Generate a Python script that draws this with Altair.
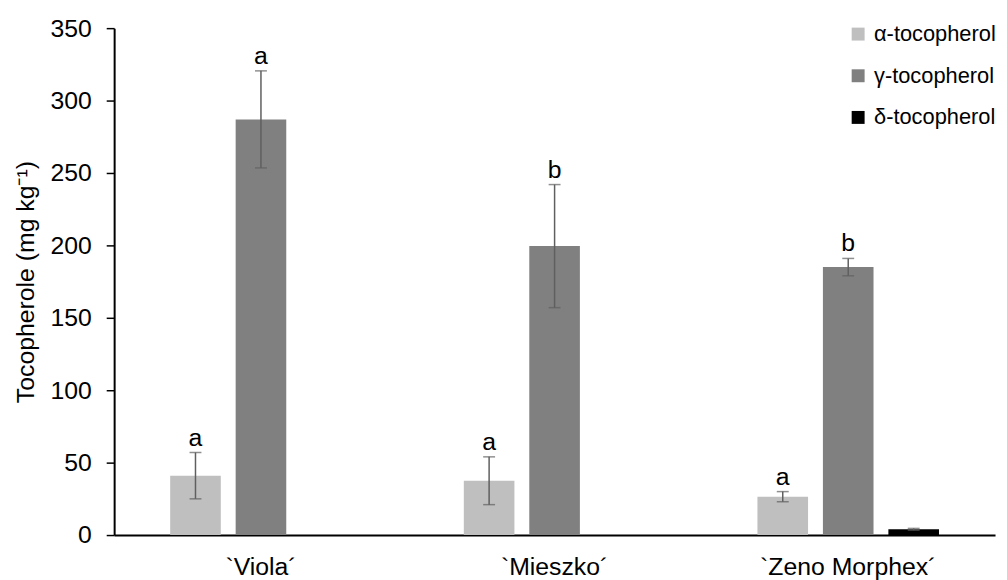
import altair as alt
import pandas as pd

cultivars = ["`Viola´", "`Mieszko´", "`Zeno Morphex´"]
compounds = ["α-tocopherol", "γ-tocopherol", "δ-tocopherol"]
colors = ["#BFBFBF", "#808080", "#000000"]

alpha_mean = [41.0, 37.5, 26.5]
alpha_err = [16.0, 16.5, 3.5]
gamma_mean = [287.0, 199.5, 185.0]
gamma_err = [33.5, 42.5, 6.0]
delta_mean = [0.0, 0.0, 4.0]
delta_err = [0.0, 0.0, 0.6]

alpha_letters = ["a", "a", "a"]
gamma_letters = ["a", "b", "b"]
delta_letters = ["", "", ""]

means = [alpha_mean, gamma_mean, delta_mean]
errs = [alpha_err, gamma_err, delta_err]
letters = [alpha_letters, gamma_letters, delta_letters]

rows = []
for ci, comp in enumerate(compounds):
    for vi, cv in enumerate(cultivars):
        m = means[ci][vi]
        e = errs[ci][vi]
        rows.append({
            "cultivar": cv, "compound": comp, "mean": m,
            "lo": m - e, "hi": m + e, "letter": letters[ci][vi],
            "has_err": e > 0,
        })
df = pd.DataFrame(rows)

FONT = "Liberation Sans"
ERR = "#5f5f5f"

x_enc = alt.X("cultivar:N", sort=cultivars,
              scale=alt.Scale(paddingInner=0, paddingOuter=0),
              axis=alt.Axis(title=None, labelAngle=0, ticks=False, labelPadding=20))
xo_enc = alt.XOffset("compound:N", sort=compounds,
                     scale=alt.Scale(paddingInner=0.227, paddingOuter=0.856))
y_scale = alt.Scale(domain=[0, 350], nice=False)

bars = alt.Chart(df).mark_bar().encode(
    x=x_enc,
    xOffset=xo_enc,
    y=alt.Y("mean:Q", scale=y_scale,
            axis=alt.Axis(title="Tocopherole (mg kg⁻¹)", values=list(range(0, 351, 50)),
                          grid=False, tickSize=8, tickWidth=1.5, labelPadding=15,
                          titlePadding=12)),
    color=alt.Color("compound:N", sort=compounds,
                    scale=alt.Scale(domain=compounds, range=colors),
                    legend=alt.Legend(title=None, orient="none", legendX=739, legendY=-5,
                                      symbolType="square", symbolSize=170,
                                      symbolStrokeWidth=0, symbolOpacity=1,
                                      labelOffset=5, rowPadding=20, padding=0)),
)

err_df = alt.Chart(df).transform_filter("datum.has_err")

rules = err_df.mark_rule(color=ERR, strokeWidth=1.5).encode(
    x=alt.X("cultivar:N", sort=cultivars),
    xOffset=alt.XOffset("compound:N", sort=compounds),
    y=alt.Y("lo:Q", scale=y_scale),
    y2="hi:Q",
)
caps_hi = err_df.mark_tick(color=ERR, size=12, thickness=1.5, orient="horizontal").encode(
    x=alt.X("cultivar:N", sort=cultivars),
    xOffset=alt.XOffset("compound:N", sort=compounds),
    y=alt.Y("hi:Q", scale=y_scale),
)
caps_lo = err_df.mark_tick(color=ERR, size=12, thickness=1.5, orient="horizontal").encode(
    x=alt.X("cultivar:N", sort=cultivars),
    xOffset=alt.XOffset("compound:N", sort=compounds),
    y=alt.Y("lo:Q", scale=y_scale),
)
labels = alt.Chart(df).mark_text(font=FONT, fontSize=25, color="#000000",
                                 baseline="alphabetic", dy=-7).encode(
    x=alt.X("cultivar:N", sort=cultivars),
    xOffset=alt.XOffset("compound:N", sort=compounds),
    y=alt.Y("hi:Q", scale=y_scale),
    text="letter:N",
)

chart = alt.layer(bars, rules, caps_hi, caps_lo, labels).properties(
    width=888, height=511,
    autosize=alt.AutoSizeParams(type="none"),
    padding={"left": 107, "top": 18, "right": 4, "bottom": 43},
).configure_view(stroke=None).configure_axis(
    labelFont=FONT, labelFontSize=25, labelColor="#000000",
    titleFont=FONT, titleFontSize=25, titleFontWeight="normal", titleColor="#000000",
    domainColor="#000000", domainWidth=2, tickColor="#000000",
).configure_legend(
    labelFont=FONT, labelFontSize=22, labelColor="#000000",
)

chart.save("out.html", embed_options={"renderer": "svg", "actions": False})
